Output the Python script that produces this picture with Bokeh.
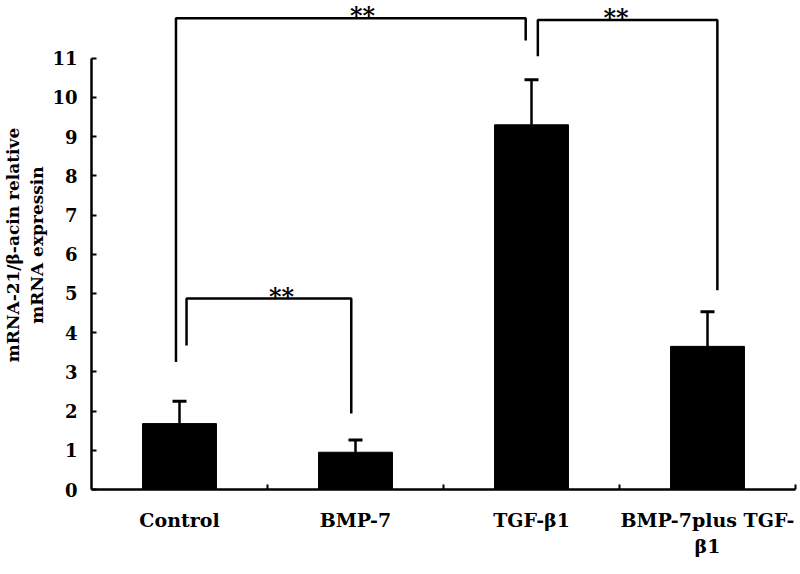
from bokeh.plotting import figure
from bokeh.models import (ColumnDataSource, FixedTicker, Whisker, TeeHead, Label, Range1d)
from bokeh.embed import file_html
from bokeh.resources import INLINE

categories = ["Control", "BMP-7", "TGF-β1", "BMP-7plus TGF-\nβ1"]
cat_pos = [0.5, 1.5, 2.5, 3.5]
means = [1.68, 0.95, 9.30, 3.65]
upper = [2.25, 1.26, 10.45, 4.53]

# significance brackets: (x path, y path) in data units
bracket_xs = [[0.48, 0.48, 2.467, 2.467],
              [2.536, 2.536, 3.556, 3.556],
              [0.54, 0.54, 1.476, 1.476]]
bracket_ys = [[3.25, 12.02, 12.02, 11.45],
              [11.05, 11.97, 11.97, 5.08],
              [3.67, 4.87, 4.87, 1.94]]
star_x = [1.54, 2.98, 1.08]
star_y = [12.02, 11.97, 4.87]
star_text = ["**", "**", "**"]

FONT = "DejaVu Serif"

p = figure(width=798, height=572, output_backend="svg", toolbar_location=None,
           x_range=Range1d(0, 4), y_range=Range1d(0, 12.47),
           min_border_left=88, min_border_right=3, min_border_top=0,
           min_border_bottom=83)
p.outline_line_color = None
p.grid.visible = False
p.background_fill_color = "white"
p.border_fill_color = "white"

src = ColumnDataSource(dict(x=cat_pos, top=means, upper=upper))
p.vbar(x="x", top="top", width=0.42, bottom=0, source=src,
       fill_color="black", line_color="black")

w = Whisker(base="x", upper="upper", lower="top", source=src,
            line_color="black", line_width=2.5,
            upper_head=TeeHead(size=14, line_color="black", line_width=3),
            lower_head=None)
p.add_layout(w)

p.multi_line(xs=bracket_xs, ys=bracket_ys, line_color="black", line_width=2.5)

for sx, sy, st in zip(star_x, star_y, star_text):
    p.add_layout(Label(x=sx, y=sy, text=st, text_font=FONT, text_font_style="bold",
                       text_font_size="24px", text_align="center",
                       text_baseline="top", y_offset=17, text_color="black"))

# x axis
xt = FixedTicker(ticks=cat_pos, minor_ticks=[1, 2, 3, 4])
p.xaxis.ticker = xt
p.xaxis.major_label_overrides = {v: c for v, c in zip(cat_pos, categories)}
p.xaxis.major_tick_in = 0
p.xaxis.major_tick_out = 0
p.xaxis.minor_tick_in = 5
p.xaxis.minor_tick_out = 0
p.xaxis.minor_tick_line_width = 2
p.xaxis.axis_line_width = 2.5
p.xaxis.major_label_standoff = 19
p.xaxis.major_label_text_font = FONT
p.xaxis.major_label_text_font_style = "bold"
p.xaxis.major_label_text_font_size = "19px"
p.xaxis.major_label_text_color = "black"

# y axis
p.yaxis.ticker = FixedTicker(ticks=list(range(0, 12)))
p.yaxis.bounds = (0, 11)
p.yaxis.major_tick_in = 5
p.yaxis.major_tick_out = 0
p.yaxis.major_tick_line_width = 2
p.yaxis.minor_tick_line_color = None
p.yaxis.axis_line_width = 2.5
p.yaxis.major_label_standoff = 14
p.yaxis.major_label_text_font = FONT
p.yaxis.major_label_text_font_style = "bold"
p.yaxis.major_label_text_font_size = "18px"
p.yaxis.major_label_text_color = "black"
p.yaxis.axis_label = "mRNA-21/β-acin relative\nmRNA expressin"
p.yaxis.axis_label_text_font = FONT
p.yaxis.axis_label_text_font_style = "bold"
p.yaxis.axis_label_text_font_size = "17px"
p.yaxis.axis_label_text_color = "black"
p.yaxis.axis_label_standoff = 2

open("out.html", "w").write(file_html(p, INLINE))
